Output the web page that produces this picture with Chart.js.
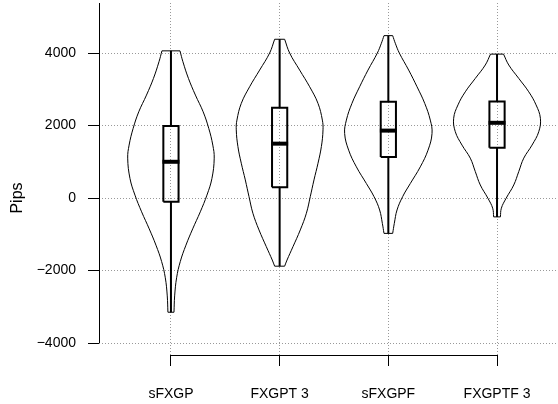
<!DOCTYPE html>
<html>
<head>
<meta charset="utf-8">
<script src="https://cdn.jsdelivr.net/npm/chart.js@4"></script>
<style>body{margin:0;background:#fff}</style>
</head>
<body>
<canvas id="violinChart" width="558" height="404"></canvas>
<script>
const categories = ['sFXGP', 'FXGPT 3', 'sFXGPF', 'FXGPTF 3'];
const yTicks = [-4000, -2000, 0, 2000, 4000];

// box stats per group
const mins = [-3150, -1880, -975, -520];
const q1s = [-100, 300, 1130, 1390];
const medians = [1000, 1500, 1860, 2075];
const q3s = [1985, 2490, 2655, 2660];
const maxs = [4060, 4380, 4480, 3970];

// violin outlines: y level and half width (in category units)
const levels1 = [-3150, -2700, -2200, -1750, -1300, -850, -380, 80, 540, 1100, 1460, 1920, 2380, 2840, 3300, 3760, 4060];
const widths1 = [0.028, 0.034, 0.052, 0.086, 0.138, 0.200, 0.270, 0.331, 0.377, 0.398, 0.385, 0.348, 0.296, 0.225, 0.161, 0.110, 0.083];
const levels2 = [-1880, -1710, -1340, -880, -420, 40, 500, 960, 1420, 1880, 2150, 2610, 3070, 3530, 4000, 4380];
const widths2 = [0.046, 0.068, 0.123, 0.190, 0.246, 0.282, 0.316, 0.353, 0.384, 0.399, 0.393, 0.353, 0.276, 0.184, 0.092, 0.046];
const levels3 = [-975, -700, -330, 40, 400, 860, 1320, 1780, 2150, 2610, 3070, 3530, 4000, 4270, 4480];
const widths3 = [0.040, 0.055, 0.080, 0.132, 0.202, 0.294, 0.365, 0.402, 0.386, 0.335, 0.264, 0.187, 0.101, 0.064, 0.040];
const levels4 = [-520, -280, -10, 360, 730, 1100, 1460, 1830, 2200, 2570, 2930, 3300, 3670, 3970];
const widths4 = [0.031, 0.040, 0.083, 0.154, 0.200, 0.246, 0.322, 0.384, 0.399, 0.359, 0.292, 0.200, 0.108, 0.060];

const allLevels = [levels1, levels2, levels3, levels4];
const allWidths = [widths1, widths2, widths3, widths4];
const boxHalf = 0.07;

function line(data, width, tension) {
    return {
        data: data,
        showLine: true,
        borderColor: '#000',
        borderWidth: width,
        pointRadius: 0,
        tension: tension || 0,
        fill: false,
        spanGaps: false
    };
}

const datasets = [];
categories.forEach((name, i) => {
    const c = i + 1;
    const lv = allLevels[i];
    const w = allWidths[i];
    const n = lv.length - 1;

    // violin outline
    datasets.push(line(lv.map((y, k) => ({ x: c - w[k], y: y })), 1, 0.4));
    datasets.push(line(lv.map((y, k) => ({ x: c + w[k], y: y })), 1, 0.4));
    datasets.push(line([
        { x: c - w[0], y: lv[0] }, { x: c + w[0], y: lv[0] },
        { x: c, y: null },
        { x: c - w[n], y: lv[n] }, { x: c + w[n], y: lv[n] }
    ], 1));

    // whiskers
    datasets.push(line([
        { x: c, y: mins[i] }, { x: c, y: q1s[i] },
        { x: c, y: null },
        { x: c, y: q3s[i] }, { x: c, y: maxs[i] }
    ], 2));

    // box
    datasets.push(line([
        { x: c - boxHalf, y: q1s[i] }, { x: c + boxHalf, y: q1s[i] },
        { x: c + boxHalf, y: q3s[i] }, { x: c - boxHalf, y: q3s[i] },
        { x: c - boxHalf, y: q1s[i] }
    ], 2));

    // median
    datasets.push(line([
        { x: c - boxHalf - 0.008, y: medians[i] }, { x: c + boxHalf + 0.008, y: medians[i] }
    ], 4));
});

// R-style axis lines: y from top down to lowest tick, x from first to last group
const axisLines = {
    id: 'axisLines',
    afterDraw(chart) {
        const { ctx, chartArea, scales: { x, y } } = chart;
        ctx.save();
        ctx.strokeStyle = '#000';
        ctx.lineWidth = 1;
        ctx.beginPath();
        ctx.moveTo(chartArea.left + 0.5, chartArea.top);
        ctx.lineTo(chartArea.left + 0.5, y.getPixelForValue(yTicks[0]));
        ctx.moveTo(x.getPixelForValue(1), chartArea.bottom + 0.5);
        ctx.lineTo(x.getPixelForValue(categories.length), chartArea.bottom + 0.5);
        ctx.stroke();

        ctx.translate(18, 198);
        ctx.rotate(-Math.PI / 2);
        ctx.font = '16px "Liberation Sans", Arial, sans-serif';
        ctx.fillStyle = '#000';
        ctx.textAlign = 'center';
        ctx.textBaseline = 'middle';
        ctx.fillText('Pips', 0, 0);
        ctx.restore();
    }
};

Chart.defaults.font.family = '"Liberation Sans", Arial, sans-serif';
Chart.defaults.font.size = 14;
Chart.defaults.color = '#000';

new Chart(document.getElementById('violinChart'), {
    type: 'scatter',
    data: { datasets: datasets },
    plugins: [axisLines],
    options: {
        responsive: false,
        animation: false,
        events: [],
        layout: { padding: { top: 3, right: 0, bottom: 0, left: 0 } },
        plugins: {
            legend: { display: false },
            tooltip: { enabled: false }
        },
        scales: {
            x: {
                type: 'linear',
                min: 0.338,
                max: 4.561,
                afterBuildTicks: (scale) => {
                    scale.ticks = categories.map((_, i) => ({ value: i + 1 }));
                },
                afterFit: (scale) => {
                    scale.height = 49;
                    scale.paddingLeft = 0;
                    scale.paddingRight = 0;
                },
                ticks: {
                    callback: (v) => categories[v - 1],
                    autoSkip: false,
                    maxRotation: 0,
                    padding: 20
                },
                grid: {
                    color: '#999',
                    lineWidth: 1,
                    tickLength: 11,
                    tickColor: '#000',
                    tickBorderDash: []
                },
                border: { display: false, dash: [1, 2] }
            },
            y: {
                min: -4330,
                max: 5380,
                afterBuildTicks: (scale) => {
                    scale.ticks = yTicks.map(v => ({ value: v }));
                },
                afterFit: (scale) => {
                    scale.width = 99;
                    scale.paddingTop = 0;
                    scale.paddingBottom = 0;
                },
                ticks: {
                    callback: (v) => v < 0 ? '\u2212' + Math.abs(v) : String(v),
                    padding: 12
                },
                grid: {
                    color: '#999',
                    lineWidth: 1,
                    tickLength: 11,
                    tickColor: '#000',
                    tickBorderDash: []
                },
                border: { display: false, dash: [1, 2] }
            }
        }
    }
});
</script>
</body>
</html>
